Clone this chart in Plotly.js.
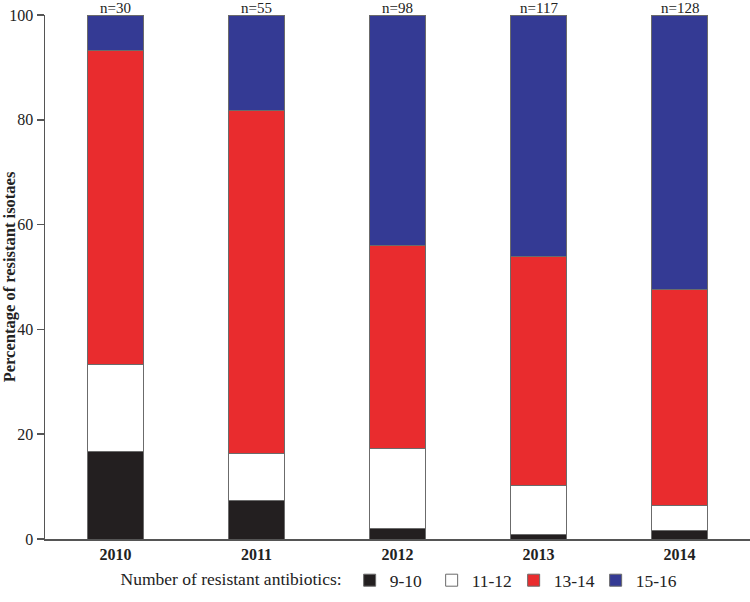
<!DOCTYPE html>
<html>
<head>
<meta charset="utf-8">
<script src="https://cdn.plot.ly/plotly-3.0.1.min.js"></script>
<style>html,body{margin:0;padding:0;background:#fff;}#chart{width:750px;height:602px;}</style>
</head>
<body>
<div id="chart"></div>
<script>
const years = ['2010', '2011', '2012', '2013', '2014'];
const sampleSizes = ['n=30', 'n=55', 'n=98', 'n=117', 'n=128'];
const seriesNames = ['9-10', '11-12', '13-14', '15-16'];
const pct_9_10  = [16.7, 7.3, 2.0, 0.9, 1.6];
const pct_11_12 = [16.6, 9.1, 15.3, 9.4, 4.7];
const pct_13_14 = [60.0, 65.4, 38.8, 43.6, 41.3];
const pct_15_16 = [6.7, 18.2, 43.9, 46.1, 52.4];
const seriesValues = [pct_9_10, pct_11_12, pct_13_14, pct_15_16];
const seriesColors = ['#231f20', '#ffffff', '#e92c2e', '#343a94'];

const serif = 'Liberation Serif';

const traces = seriesValues.map((vals, i) => ({
  type: 'bar',
  name: seriesNames[i],
  x: years,
  y: vals,
  marker: {color: seriesColors[i], line: {color: '#6b6b6b', width: 1}},
  hoverinfo: 'skip'
}));

// category index used as annotation x (year strings would be read as numbers)
const annotations = years.map((yr, i) => ({
  x: i, y: 1, xref: 'x', yref: 'paper',
  text: sampleSizes[i], showarrow: false,
  yanchor: 'bottom', yshift: -3,
  font: {family: serif, size: 15, color: '#222'}
}));

const layout = {
  width: 750, height: 602,
  margin: {l: 45, r: 0, t: 15, b: 63},
  paper_bgcolor: '#fff', plot_bgcolor: '#fff',
  barmode: 'stack',
  bargap: 0.6,
  showlegend: true,
  font: {family: serif, color: '#222'},
  xaxis: {
    type: 'category',
    range: [-0.5, 4.5],
    showline: true, linecolor: '#555', linewidth: 1.5,
    ticks: '', showgrid: false, zeroline: false,
    tickfont: {family: serif, size: 16, color: '#222', weight: 'bold'}
  },
  yaxis: {
    range: [0, 100],
    tickvals: [0, 20, 40, 60, 80, 100],
    showline: true, linecolor: '#555', linewidth: 1.5,
    ticks: 'outside', ticklen: 7, tickcolor: '#555', tickwidth: 1.5,
    showgrid: false, zeroline: false,
    tickfont: {family: serif, size: 16, color: '#222'},
    title: {text: 'Percentage of resistant isotaes', standoff: 6,
            font: {family: serif, size: 16.5, color: '#222', weight: 'bold'}}
  },
  legend: {
    orientation: 'h',
    xref: 'container', yref: 'container',
    x: 0.158, xanchor: 'left',
    y: 0.036, yanchor: 'middle',
    title: {text: 'Number of resistant antibiotics:', side: 'left',
            font: {family: serif, size: 17.5, color: '#222'}},
    font: {family: serif, size: 17.5, color: '#222'},
    entrywidth: 37, entrywidthmode: 'pixels',
    traceorder: 'normal',
    itemclick: false, itemdoubleclick: false
  },
  annotations: annotations
};

Plotly.newPlot('chart', traces, layout, {displayModeBar: false, staticPlot: true});
</script>
</body>
</html>
